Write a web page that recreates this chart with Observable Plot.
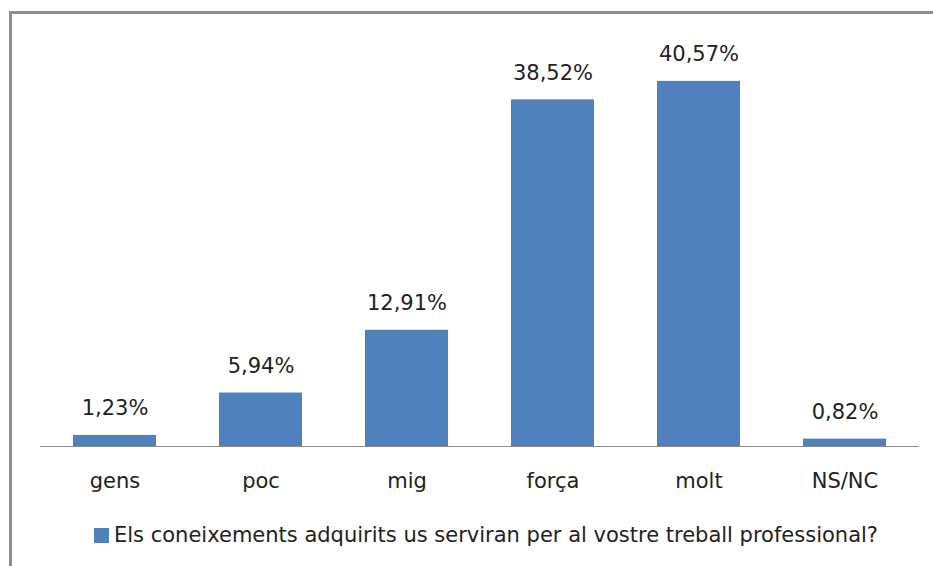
<!DOCTYPE html>
<html>
<head>
<meta charset="utf-8">
<script src="https://cdn.jsdelivr.net/npm/d3@7"></script>
<script src="https://cdn.jsdelivr.net/npm/@observablehq/plot@0.6"></script>
<style>
  html, body { margin: 0; padding: 0; background: #fff; width: 933px; height: 566px; overflow: hidden; }
  #frame { position: absolute; left: 9px; top: 11px; width: 1000px; height: 1000px;
           border-left: 3px solid #8c8c8c; border-top: 3px solid #8c8c8c; box-sizing: border-box; }
  #chart { position: absolute; left: 0; top: 0; }
  #legend { position: absolute; left: 94px; top: 523px; font-family: "DejaVu Sans", sans-serif;
            font-size: 21px; color: #222; white-space: nowrap; display: flex; align-items: center; }
  #legend .sw { width: 15px; height: 15px; background: #4F81BD; margin-right: 5px; }
</style>
</head>
<body>
<div id="frame"></div>
<div id="chart"></div>
<div id="legend"><span class="sw"></span><span id="legendText"></span></div>
<script>
const categories = ["gens", "poc", "mig", "força", "molt", "NS/NC"];
const values = [1.23, 5.94, 12.91, 38.52, 40.57, 0.82];
const seriesName = "Els coneixements adquirits us serviran per al vostre treball professional?";

const data = categories.map((c, i) => ({category: c, value: values[i]}));
const fmt = v => v.toFixed(2).replace(".", ",") + "%";

const chart = Plot.plot({
  width: 933,
  height: 500,
  marginLeft: 40,
  marginRight: 14,
  marginTop: 41,
  marginBottom: 54,
  style: {fontFamily: "DejaVu Sans, sans-serif", fontSize: "21px", color: "#222", background: "transparent"},
  x: {domain: categories, paddingInner: 0.43, paddingOuter: 0.215, label: null},
  y: {domain: [0, 45], axis: null},
  marks: [
    Plot.barY(data, {x: "category", y: "value", fill: "#4F81BD"}),
    Plot.ruleY([0], {stroke: "#8c8c8c", strokeWidth: 1}),
    Plot.text(data, {x: "category", y: "value", text: d => fmt(d.value), lineAnchor: "bottom", dy: -20, fontSize: 21, fill: "#222"}),
    Plot.axisX({tickSize: 0, tickPadding: 27, fontSize: 21, label: null})
  ]
});
document.getElementById("chart").appendChild(chart);
document.getElementById("legendText").textContent = seriesName;
</script>
</body>
</html>
